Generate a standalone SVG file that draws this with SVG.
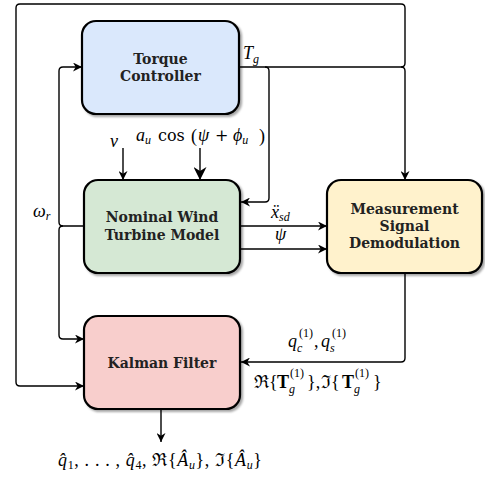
<svg xmlns="http://www.w3.org/2000/svg" width="485" height="478" viewBox="0 0 485 478">
<style>
.box{stroke:#000;stroke-width:2.2}
.lbl{font-family:"DejaVu Serif",serif;font-weight:bold;font-size:14px;text-anchor:middle;fill:#222}
.c{fill:none;stroke:#000;stroke-width:1.4}
.m{font-family:"Liberation Serif","DejaVu Serif",serif;font-style:italic;font-size:18px;fill:#000}
.u{font-style:normal}
.s{font-size:12px}
.d{font-family:"DejaVu Serif",serif;font-style:normal;font-size:16px}
</style>
<defs>
<filter id="sh" x="-10%" y="-10%" width="130%" height="130%">
<feDropShadow dx="2" dy="2" stdDeviation="1.2" flood-color="#000" flood-opacity="0.35"/>
</filter>
<marker id="a" viewBox="0 0 10 10" refX="10" refY="5" markerWidth="9" markerHeight="9" markerUnits="userSpaceOnUse" orient="auto">
<path d="M0,0 L10,5 L0,10 L3,5 z" fill="#000"/>
</marker>
<marker id="ab" viewBox="0 0 10 10" refX="10" refY="5" markerWidth="13" markerHeight="13" markerUnits="userSpaceOnUse" orient="auto">
<path d="M0,0 L10,5 L0,10 L3,5 z" fill="#000"/>
</marker>
</defs>

<g id="connectors">
<path class="c" d="M239,67 H401 Q405,67 405,63 V8 Q405,4 401,4 H20 Q16,4 16,8 V382 Q16,386 20,386 H84" marker-end="url(#a)"/>
<path class="c" d="M401,67 Q405,67 405,71 V180" marker-end="url(#a)"/>
<path class="c" d="M265,67 Q269,67 269,71 V198 Q269,202 265,202 H241" marker-end="url(#a)"/>
<path class="c" d="M84,226 H63 Q59,226 59,222 V71 Q59,67 63,67 H82" marker-end="url(#a)"/>
<path class="c" d="M63,226 Q59,226 59,230 V335 Q59,339 63,339 H84" marker-end="url(#a)"/>
<path class="c" d="M123,148 V180" marker-end="url(#a)"/>
<path class="c" d="M200,148 V180" stroke-width="3" marker-end="url(#ab)"/>
<path class="c" d="M240,226 H327" marker-end="url(#a)"/>
<path class="c" d="M240,249 H327" marker-end="url(#a)"/>
<path class="c" d="M405,273 V358 Q405,362 401,362 H241" marker-end="url(#a)"/>
<path class="c" d="M161,409 V442" marker-end="url(#a)"/>
</g>

<g id="torque">
<rect class="box" x="82" y="21" width="157" height="93" rx="14" fill="#dae8fc" filter="url(#sh)"/>
<text class="lbl" x="160.5" y="64">Torque</text>
<text class="lbl" x="160.5" y="81">Controller</text>
</g>
<g id="nominal">
<rect class="box" x="84" y="180" width="156" height="93" rx="14" fill="#d5e8d4" filter="url(#sh)"/>
<text class="lbl" x="162" y="222">Nominal Wind</text>
<text class="lbl" x="162" y="240">Turbine Model</text>
</g>
<g id="measurement">
<rect class="box" x="327" y="180" width="155" height="93" rx="14" fill="#fff2cc" filter="url(#sh)"/>
<text class="lbl" x="404.5" y="214">Measurement</text>
<text class="lbl" x="404.5" y="231">Signal</text>
<text class="lbl" x="404.5" y="248">Demodulation</text>
</g>
<g id="kalman">
<rect class="box" x="84" y="316" width="156" height="93" rx="14" fill="#f8cecc" filter="url(#sh)"/>
<text class="lbl" x="162" y="368">Kalman Filter</text>
</g>

<g id="labels">
<text class="m" x="243" y="59">T<tspan class="s" dy="4">g</tspan></text>
<text class="m" x="110" y="147">v</text>
<text class="m" x="136" y="141">a<tspan class="s" dy="3">u</tspan></text>
<text class="m d" x="158" y="141">cos</text>
<text class="m u" x="191" y="142" font-size="21">(</text>
<text class="m" x="198" y="141">ψ</text>
<text class="m d" x="215" y="141">+</text>
<text class="m" x="233" y="141">ϕ<tspan class="s" dy="3">u</tspan></text>
<text class="m u" x="259" y="142" font-size="21">)</text>
<text class="m" x="33" y="217">ω<tspan class="s" dy="3">r</tspan></text>
<text class="m" x="271" y="218">ẍ<tspan class="s" dy="3">sd</tspan></text>
<text class="m" x="275" y="240">ψ</text>
<text class="m" x="288" y="347">q</text>
<text class="m s" x="297" y="352">c</text>
<text class="m u s" x="299" y="337">(1)</text>
<text class="m u" x="314" y="347">,</text>
<text class="m" x="321" y="347">q</text>
<text class="m s" x="330" y="352">s</text>
<text class="m u s" x="332" y="337">(1)</text>
<text class="m u" x="254" y="388">ℜ{</text>
<text class="m u" x="277" y="388" font-weight="bold">T</text>
<text class="m s" x="289" y="393">g</text>
<text class="m u s" x="290" y="377">(1)</text>
<text class="m u" x="307" y="388">},</text>
<text class="m u" x="321" y="388">ℑ{</text>
<text class="m u" x="342" y="388" font-weight="bold">T</text>
<text class="m s" x="354" y="393">g</text>
<text class="m u s" x="355" y="377">(1)</text>
<text class="m u" x="373" y="388">}</text>
<text class="m" x="58" y="466" textLength="204" lengthAdjust="spacing">q̂<tspan class="u s" dy="3">1</tspan><tspan class="u" dy="-3">, . . . , </tspan>q̂<tspan class="u s" dy="3">4</tspan><tspan class="u" dy="-3">, ℜ{</tspan>Â<tspan class="s" dy="3">u</tspan><tspan class="u" dy="-3">}, ℑ{</tspan>Â<tspan class="s" dy="3">u</tspan><tspan class="u" dy="-3">}</tspan></text>
</g>
</svg>
